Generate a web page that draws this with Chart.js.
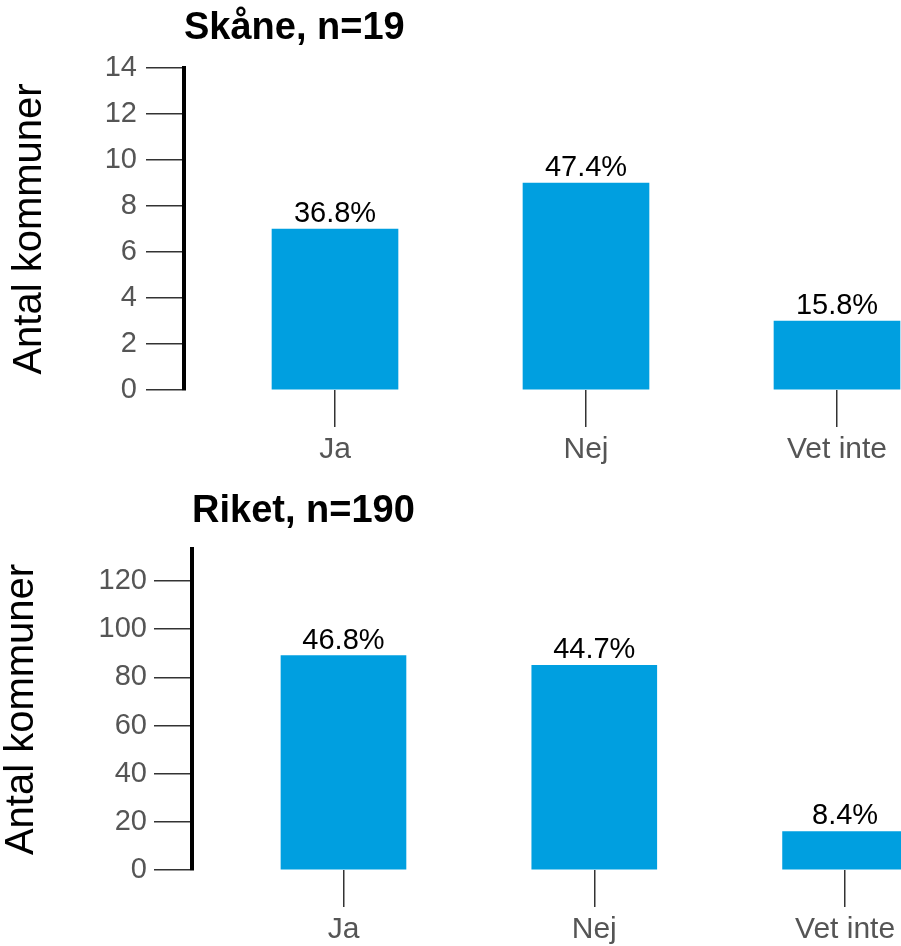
<!DOCTYPE html>
<html>
<head>
<meta charset="utf-8">
<script src="https://cdn.jsdelivr.net/npm/chart.js@4/dist/chart.umd.min.js"></script>
<style>
  html, body { margin: 0; padding: 0; background: #fff; overflow: hidden; }
  .panel { position: absolute; left: 0; }
</style>
</head>
<body>
<div class="panel" style="top:0"><canvas id="skaneChart" width="901" height="470"></canvas></div>
<div class="panel" style="top:470px"><canvas id="riketChart" width="901" height="476"></canvas></div>
<script>
// data
var categories = ['Ja', 'Nej', 'Vet inte'];
var skaneCounts = [7, 9, 3];
var skanePct = ['36.8%', '47.4%', '15.8%'];
var riketCounts = [89, 85, 16];
var riketPct = ['46.8%', '44.7%', '8.4%'];
var skaneTicks = [0, 2, 4, 6, 8, 10, 12, 14];
var riketTicks = [0, 20, 40, 60, 80, 100, 120];

var FONT = "'Liberation Sans', Arial, sans-serif";
var BAR_COLOR = '#009FE0';

// writes the percent text above each bar
var barLabels = {
    id: 'barLabels',
    afterDatasetsDraw: function (chart, args, opts) {
        var ctx = chart.ctx;
        var meta = chart.getDatasetMeta(0);
        ctx.save();
        ctx.font = '29px ' + FONT;
        ctx.fillStyle = '#000';
        ctx.textAlign = 'center';
        ctx.textBaseline = 'alphabetic';
        meta.data.forEach(function (bar, i) {
            ctx.fillText(opts.labels[i], bar.x, bar.y - 7);
        });
        ctx.restore();
    }
};

function makeChart(id, cfg) {
    var ctx = document.getElementById(id).getContext('2d');
    return new Chart(ctx, {
        type: 'bar',
        data: {
            datasets: [{
                data: cfg.counts.map(function (v, i) { return { x: i, y: v }; }),
                backgroundColor: BAR_COLOR,
                borderWidth: 0,
                barThickness: cfg.barWidth,
            }],
        },
        plugins: [barLabels],
        options: {
            responsive: false,
            animation: false,
            layout: { padding: 0 },
            plugins: {
                legend: { display: false },
                tooltip: { enabled: false },
                title: {
                    display: true,
                    text: cfg.title,
                    align: 'start',
                    fullSize: false,
                    color: '#000',
                    font: { family: FONT, size: 38, weight: 'bold', lineHeight: 1.2 },
                    padding: cfg.titlePad,
                },
                barLabels: { labels: cfg.pct },
            },
            scales: {
                x: {
                    type: 'linear',
                    offset: false,
                    min: cfg.xMin,
                    max: cfg.xMax,
                    afterBuildTicks: function (scale) {
                        scale.ticks = categories.map(function (c, i) { return { value: i }; });
                    },
                    afterFit: function (scale) { scale.height = cfg.xHeight; },
                    ticks: {
                        callback: function (v) { return categories[v]; },
                        color: '#555',
                        font: { family: FONT, size: 30 },
                        padding: 5,
                        maxRotation: 0,
                    },
                    grid: {
                        offset: false,
                        drawOnChartArea: false,
                        drawTicks: true,
                        tickLength: 37,
                        tickColor: '#333',
                        lineWidth: 1.5,
                    },
                    border: { display: false },
                },
                y: {
                    min: 0,
                    max: cfg.yMax,
                    afterBuildTicks: function (scale) {
                        scale.ticks = cfg.yTicks.map(function (v) { return { value: v }; });
                    },
                    afterFit: function (scale) { scale.width = cfg.yWidth; },
                    ticks: {
                        color: '#555',
                        font: { family: FONT, size: 29 },
                        padding: cfg.yTickPad,
                    },
                    grid: {
                        drawOnChartArea: false,
                        drawTicks: true,
                        tickLength: 38,
                        tickColor: '#333',
                        lineWidth: 1.5,
                    },
                    border: { display: true, color: '#000', width: 4 },
                    title: {
                        display: true,
                        text: 'Antal kommuner',
                        color: '#000',
                        font: { family: FONT, size: 40, lineHeight: 1 },
                        padding: { top: cfg.yTitlePad, bottom: 0 },
                    },
                },
            },
        },
    });
}

makeChart('skaneChart', {
    title: 'Skåne, n=19',
    counts: skaneCounts,
    pct: skanePct,
    yTicks: skaneTicks,
    yMax: 14,
    xMin: -0.6016,
    xMax: 2.255,
    barWidth: 126,
    yWidth: 184,
    xHeight: 80,
    yTickPad: 9,
    yTitlePad: 10,
    titlePad: { top: 6, bottom: 16.4 },
});

makeChart('riketChart', {
    title: 'Riket, n=190',
    counts: riketCounts,
    pct: riketPct,
    yTicks: riketTicks,
    yMax: 133.3,
    xMin: -0.604,
    xMax: 2.223,
    barWidth: 125,
    yWidth: 192,
    xHeight: 76,
    yTickPad: 7,
    yTitlePad: 2,
    titlePad: { top: 19, bottom: 14.4 },
});
</script>
</body>
</html>
